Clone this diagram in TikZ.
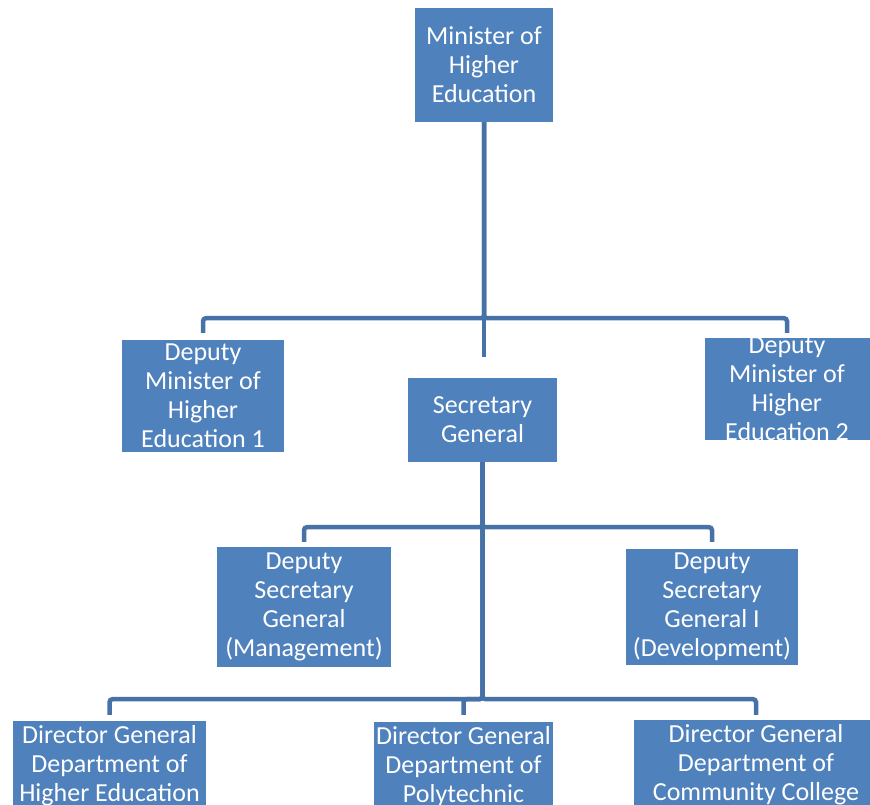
\documentclass[tikz,border=0pt]{standalone}
\usepackage{fontspec}
\setmainfont{Carlito}
\usepackage{xcolor}
\usepackage{tikz}
\usetikzlibrary{positioning}
\definecolor{boxblue}{HTML}{4F81BD}
\definecolor{lineblue}{HTML}{4672A8}

\begin{document}
\begin{tikzpicture}[
      x=1pt, y=-1pt,
      font=\fontsize{26}{29}\selectfont,
      boxtext/.style={text=white, align=center, inner sep=0pt},
      box/.style={boxtext, fill=boxblue, minimum width=#1},
      box/.default=150pt,
      link/.style={draw=lineblue, line width=4.5pt, rounded corners=3pt}]
    \useasboundingbox (0,0) rectangle (870,805);
    \clip (0,0) rectangle (870,805);
    % top level
    \node[box=138pt, minimum height=114pt] (minister) at (484,65) {Minister of\\Higher\\Education};
    \node[box=162pt, minimum height=112pt] (dm1) at (203,396) {Deputy\\Minister of\\Higher\\Education 1};
    \node[box=149pt, minimum height=84pt] (sec) at (482.5,420) {Secretary\\General};
    \node[box=165pt, minimum height=102pt] (dm2) at (787,389) {};
    \node[boxtext] (dm2text) at (dm2) {Deputy\\Minister of\\Higher\\Education 2};
    % deputies of the secretary general
    \node[box=174pt, minimum height=120pt] (dsgm) at (304,607) {Deputy\\Secretary\\General\\(Management)};
    \node[box=172pt, minimum height=116pt] (dsgd) at (712,607) {Deputy\\Secretary\\General I\\(Development)};
    % directors general
    \node[box=193pt, minimum height=90pt] (dghe) at (109.5,766) {Director General\\Department of\\Higher Education};
    \node[box=179pt, minimum height=90pt] (dgpt) at (463.5,767) {Director General\\Department of\\Polytechnic};
    \node[box=244pt, minimum height=90pt] (dgcc) at (756,765) {Director General\\Department of\\Community College};
    % connectors
    \draw[link, shorten >=21pt] (minister.south) -- (minister.south |- sec.north);
    \draw[link, shorten >=7pt] (minister.south) -- ++(0,196) -| (dm1.north);
    \draw[link, shorten >=5pt] (minister.south) -- ++(0,196) -| (dm2.north);
    \draw[link, shorten >=5pt] (sec.south) -- ++(0,65) -| (dsgm.north);
    \draw[link, shorten >=7pt] (sec.south) -- ++(0,65) -| (dsgd.north);
    \draw[link, shorten >=6pt] (sec.south) -- ++(0,237) -| (dghe.north);
    \draw[link, shorten >=7pt] (sec.south) -- ++(0,237) -| (dgpt.north);
    \draw[link, shorten >=5pt] (sec.south) -- ++(0,237) -| (dgcc.north);
  \end{tikzpicture}
\end{document}
